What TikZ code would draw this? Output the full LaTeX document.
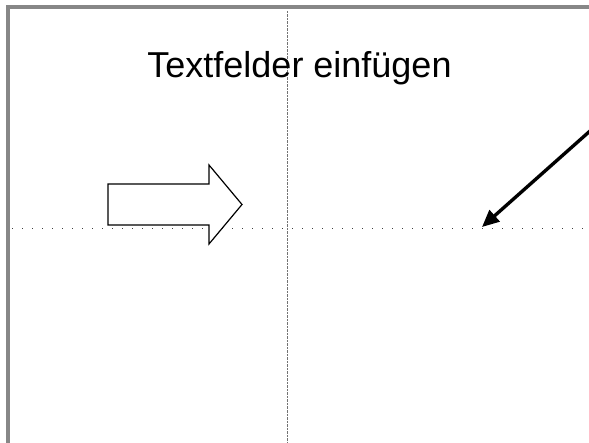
\documentclass[tikz,border=0pt]{standalone}
\usepackage{fontspec}
\setmainfont{Liberation Sans}
\usetikzlibrary{arrows.meta}

\begin{document}
\begin{tikzpicture}[
  x=1pt,y=-1pt,
  frame/.style={draw=black!47,line width=3.5pt},
  guideh/.style={draw=black!75,line width=1.2pt,dash pattern=on 1.2pt off 8.8pt},
  guidev/.style={draw=black!55,line width=1.2pt,dash pattern=on 2.5pt off 1pt},
  blockarrow/.style={draw,fill=white,line width=1.2pt,line join=miter},
  title/.style={font=\fontsize{36}{40}\selectfont,anchor=base},
  pointer/.style={-{Triangle[length=17pt,width=15pt]},line width=3.4pt}]

  \useasboundingbox (0,0) rectangle (589,443);

  % window frame and guide lines
  \draw[frame] (8,443) -- (8,7) -- (589,7);
  \coordinate (hl) at (12,228.5);
  \coordinate (hr) at (589,228.5);
  \coordinate (vt) at (287.5,11);
  \coordinate (vb) at (287.5,443);
  \draw[guideh] (hl) -- (hr);
  \draw[guidev] (vt) -- (vb);

  % title
  \node[title] (tf) at (299.5,78) {Textfelder einfügen};

  % block arrow
  \draw[blockarrow] (108,184) -- (209,184) -- (209,165) -- (242,204.5)
    -- (209,244) -- (209,225) -- (108,225) -- cycle;

  % pointer arrow
  \coordinate (ps) at (590,131);
  \coordinate (pe) at (482,227);
  \draw[pointer] (ps) -- (pe);

\end{tikzpicture}
\end{document}
